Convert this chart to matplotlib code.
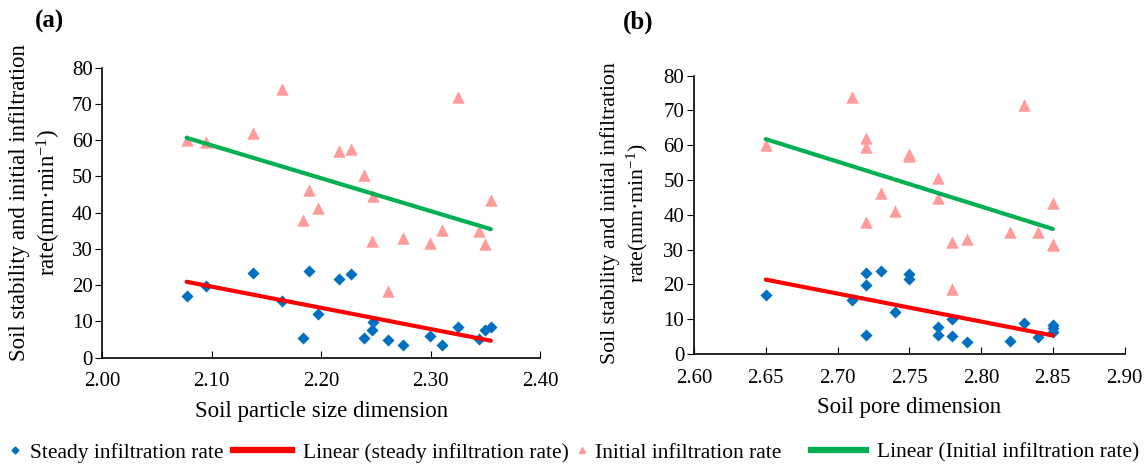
import numpy as np
import matplotlib
matplotlib.use("Agg")
import matplotlib.pyplot as plt
from matplotlib.lines import Line2D

plt.rcParams['font.family'] = ['Liberation Serif', 'DejaVu Serif']
plt.rcParams['mathtext.fontset'] = 'custom'
plt.rcParams['mathtext.rm'] = 'Liberation Serif'
plt.rcParams['mathtext.it'] = 'Liberation Serif:italic'

# panel (a): soil particle size dimension
particle_dim = [2.077, 2.0945, 2.1375, 2.164, 2.1835, 2.189, 2.197, 2.216, 2.227, 2.2395,
                2.247, 2.2465, 2.261, 2.275, 2.2998, 2.3105, 2.325, 2.344, 2.35, 2.355]
steady_a = [17.0, 19.8, 23.3, 15.5, 5.3, 23.9, 12.0, 21.7, 23.0, 5.3,
            9.8, 7.5, 4.9, 3.5, 6.1, 3.5, 8.6, 5.1, 7.5, 8.4]
initial_a = [60.0, 59.6, 62.1, 74.1, 38.0, 46.2, 41.2, 57.1, 57.5, 50.4,
             44.6, 32.3, 18.4, 32.9, 31.6, 35.2, 71.8, 35.0, 31.4, 43.5]

# panel (b): soil pore dimension
pore_dim_steady = [2.65, 2.71, 2.72, 2.72, 2.72, 2.73, 2.75, 2.75, 2.74, 2.77,
                   2.77, 2.78, 2.78, 2.79, 2.82, 2.83, 2.84, 2.85, 2.85, 2.85]
steady_b = [17.0, 15.5, 23.4, 19.8, 5.5, 23.9, 22.9, 21.6, 12.0, 7.7,
            5.5, 10.1, 5.2, 3.5, 3.7, 8.8, 5.0, 8.3, 7.4, 6.4]
pore_dim_initial = [2.65, 2.71, 2.72, 2.72, 2.72, 2.75, 2.75, 2.73, 2.74, 2.77,
                    2.77, 2.78, 2.79, 2.78, 2.83, 2.82, 2.84, 2.85, 2.85, 2.85]
initial_b = [60.0, 73.8, 62.0, 59.4, 38.0, 57.0, 57.5, 46.2, 41.2, 50.5,
             44.8, 32.3, 33.1, 18.6, 71.6, 35.2, 35.2, 43.5, 31.3, 31.6]

blue = '#0070C0'
pink = '#FF9B9B'
red = '#FF0000'
green = '#00B050'

fig = plt.figure(figsize=(11.46, 4.65), dpi=100)
ax_a = fig.add_axes([0.0893, 0.2308, 0.382, 0.6237])
ax_b = fig.add_axes([0.6056, 0.2387, 0.3757, 0.5985])


def draw(ax, xs_s, ys_s, xs_i, ys_i, xlim, xticks, xlabel, ylab_size, ylab_pos):
    ax.scatter(xs_i, ys_i, marker='^', s=80, color=pink, linewidths=0, zorder=3)
    ax.scatter(xs_s, ys_s, marker='D', s=38, color=blue, linewidths=0, zorder=3)
    # linear trend lines fitted on the same points
    for xs, ys, c in [(xs_s, ys_s, red), (xs_i, ys_i, green)]:
        k, b = np.polyfit(xs, ys, 1)
        xx = np.array([min(xs), max(xs)])
        ax.plot(xx, k * xx + b, color=c, lw=3, zorder=4, solid_capstyle='round')
    ax.set_xlim(*xlim)
    ax.set_ylim(0, 80)
    ax.set_xticks(xticks)
    ax.set_xticklabels(['%.2f' % t for t in xticks])
    ax.set_yticks(range(0, 81, 10))
    ax.tick_params(axis='x', direction='in', length=5, labelsize=15, pad=10.5)
    ax.tick_params(axis='y', direction='out', length=5, labelsize=15, pad=2)
    for s in ['top', 'right']:
        ax.spines[s].set_visible(False)
    for s in ['left', 'bottom']:
        ax.spines[s].set_linewidth(1.2)
    ax.set_xlabel(xlabel, fontsize=16.5, labelpad=7)
    ax.set_ylabel('Soil stability and initial infiltration\nrate(mm·min$^{-1}$)',
                  fontsize=ylab_size, linespacing=1.25)
    ax.yaxis.set_label_coords(*ylab_pos)


draw(ax_a, particle_dim, steady_a, particle_dim, initial_a,
     (2.0, 2.4), [2.0, 2.1, 2.2, 2.3, 2.4], 'Soil particle size dimension',
     16.5, (-0.09, 0.535))
draw(ax_b, pore_dim_steady, steady_b, pore_dim_initial, initial_b,
     (2.6, 2.9), [2.6, 2.65, 2.7, 2.75, 2.8, 2.85, 2.9], 'Soil pore dimension',
     15.7, (-0.102, 0.507))

fig.text(0.0305, 0.953, '(a)', fontsize=18, fontweight='bold', va='center')
fig.text(0.5436, 0.953, '(b)', fontsize=18, fontweight='bold', va='center')

# legend entries placed one by one along the bottom
leg_y = 0.026
entries = [
    (Line2D([], [], marker='D', color=blue, ls='none', markersize=3.5),
     'Steady infiltration rate', 8.5 / 1146, 0.6, 0.4),
    (Line2D([], [], color=red, lw=4.5),
     'Linear (steady infiltration rate)', 233 / 1146, 2.75, 0.5),
    (Line2D([], [], marker='^', color=pink, ls='none', markersize=4),
     'Initial infiltration rate', 575.5 / 1146, 0.6, 0.3),
    (Line2D([], [], color=green, lw=4.5),
     'Linear (Initial infiltration rate)', 811 / 1146, 2.56, 0.5),
]
for h, lab, x0, hl, hp in entries:
    fig.legend([h], [lab], loc='center left', bbox_to_anchor=(x0, leg_y),
               frameon=False, fontsize=15.5, handlelength=hl, handletextpad=hp,
               borderpad=0, borderaxespad=0)

fig.savefig('out.png', dpi=100)
